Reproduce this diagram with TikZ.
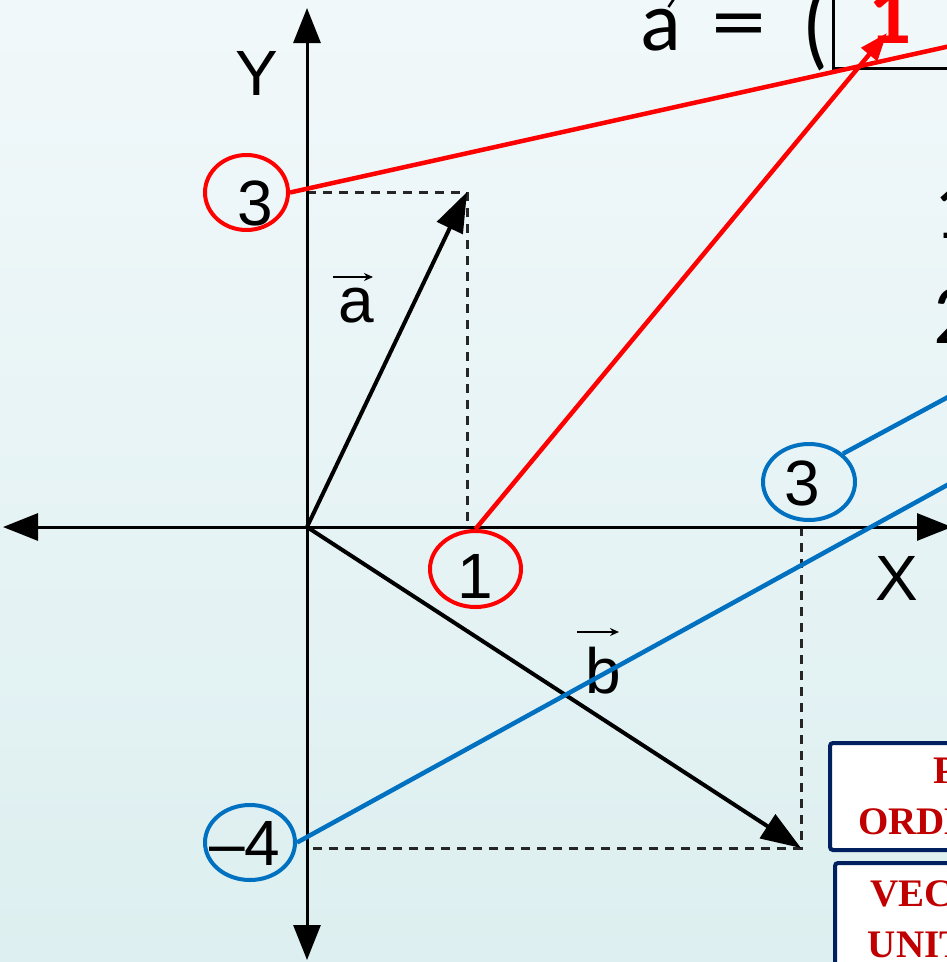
\documentclass[tikz,border=0pt]{standalone}
\usepackage{graphicx}
\usepackage{fontspec}
\setmainfont{Liberation Sans}
\newfontfamily\calfont{Carlito}
\newfontfamily\serfont{Liberation Serif}
\usetikzlibrary{arrows.meta,shapes.geometric}
\definecolor{bgtop}{RGB}{241,248,250}
\definecolor{bgbot}{RGB}{221,239,240}
\definecolor{myred}{RGB}{255,0,0}
\definecolor{myblue}{RGB}{0,112,192}
\definecolor{navy}{RGB}{0,32,96}
\definecolor{darkred}{RGB}{192,0,0}
\begin{document}
\begin{tikzpicture}[x=1pt,y=-1pt,
  axis/.style={line width=3pt, black, {Triangle[length=35pt,width=27pt]}-{Triangle[length=35pt,width=27pt]}},
  vec/.style={line width=4pt, -{Triangle[length=40pt,width=28pt]}},
  guide/.style={line width=3pt, black!85, dash pattern=on 9pt off 7pt},
  lbl/.style={font=\fontsize{64}{70}\selectfont, inner sep=0pt, anchor=base},
  accent/.style={line width=2pt, -{Stealth[length=9pt,width=8pt]}},
  oval/.style={ellipse, line width=4pt, inner sep=0pt, draw},
  redline/.style={myred, line width=4.5pt},
  blueline/.style={myblue, line width=4.5pt},
  big/.style={font=\calfont\fontsize{85}{90}\selectfont, inner sep=0pt},
  tag/.style={rectangle, rounded corners=3pt, draw=navy, line width=4pt, fill=white,
    font=\serfont\bfseries\fontsize{39}{51}\selectfont, text=darkred, align=center, inner sep=0pt},
]
\useasboundingbox (0,0) rectangle (947,962);
\clip (0,0) rectangle (947,962);
\shade[top color=bgtop,bottom color=bgbot] (0,0) rectangle (947,962);

% coordinates
\coordinate (O) at (307,527);
\coordinate (A) at (467,192);
\coordinate (B) at (801,848);
\coordinate (Ax) at (467,527);
\coordinate (Ay) at (307,192);
\coordinate (Bx) at (801,527);
\coordinate (By) at (307,848);
\coordinate (xl) at (3,527);
\coordinate (xr) at (952,527);
\coordinate (yt) at (307,8);
\coordinate (yb) at (307,960);

% guides, axes, vectors
\draw[guide] (Ay) -- (A) -- (Ax);
\draw[guide] (Bx) -- (B) -- (By);
\draw[axis] (xl) -- (xr);
\draw[axis] (yb) -- (yt);
\draw[vec] (O) -- (A);
\draw[vec] (O) -- (B);

% axis and vector labels
\node[lbl] (ylab) at (257,95) {Y};
\node[lbl] (xlab) at (897,600) {X};
\node[lbl] (alab) at (356,322) {a};
\coordinate (aarL) at (333,277);
\coordinate (aarR) at (373,277);
\draw[accent] (aarL) -- (aarR);
\node[lbl] (blab) at (603,693) {b};
\coordinate (barL) at (577,632);
\coordinate (barR) at (619,632);
\draw[accent] (barL) -- (barR);

% circled values
\node[oval, draw=myred, minimum width=83pt, minimum height=75pt] (r3) at (246.5,192.5) {};
\node[lbl] (n3r) at (255,225) {3};
\node[oval, draw=myred, minimum width=91pt, minimum height=76pt] (r1) at (475.5,569) {};
\node[lbl] (n1r) at (475,598) {1};
\node[oval, draw=myblue, minimum width=92pt, minimum height=76pt] (b3) at (809,482) {};
\node[lbl] (n3b) at (802,505) {3};
\node[oval, draw=myblue, minimum width=90pt, minimum height=75pt] (b4) at (250,842.5) {};
\node[lbl] (n4b) at (245,865) {–4};

% top formula
\node[big, anchor=base west] (fa) at (640,50) {a};
\coordinate (vaL) at (640,-5);
\coordinate (vaR) at (678,-5);
\draw[line width=2.5pt, -{Straight Barb[length=8pt,width=24pt]}] (vaL) -- (vaR);
\node[big, anchor=base] (feq) at (739,50) {\scalebox{1.3}[1]{=}};
\node[big, anchor=base] (fpar) at (815,57) {\scalebox{1}[1.15]{(}};
\node[draw, line width=3pt, minimum width=177pt, minimum height=88pt, inner sep=0pt] (fbox) at (921.5,24) {};
\node[big, font=\calfont\bfseries\fontsize{85}{90}\selectfont, text=myred, anchor=base] (f1) at (890,43) {1};

% partially visible text at right edge
\node[big, anchor=base west] (s1) at (933,238) {1};
\node[big, anchor=base west] (s2) at (933,343) {2};

% connectors
\coordinate (r3end) at (1000,35);
\draw[redline] (r3.east) -- (r3end);
\coordinate (tip1) at (887,33);
\draw[redline, -{Triangle[length=28pt,width=20pt]}] (r1.north) -- (tip1);
\coordinate (b3end) at (1000,369);
\draw[blueline] (b3.north east) -- (b3end);
\coordinate (b4end) at (1000,456);
\draw[blueline] (b4.east) -- (b4end);

% boxes
\node[tag, minimum width=284pt, minimum height=107pt] (t1) at (972,796.5) {PAR\\ORDENADO};
\node[tag, minimum width=284pt, minimum height=112pt] (t2) at (977,919) {VECTORES\\UNITARIOS};
\end{tikzpicture}
\end{document}
